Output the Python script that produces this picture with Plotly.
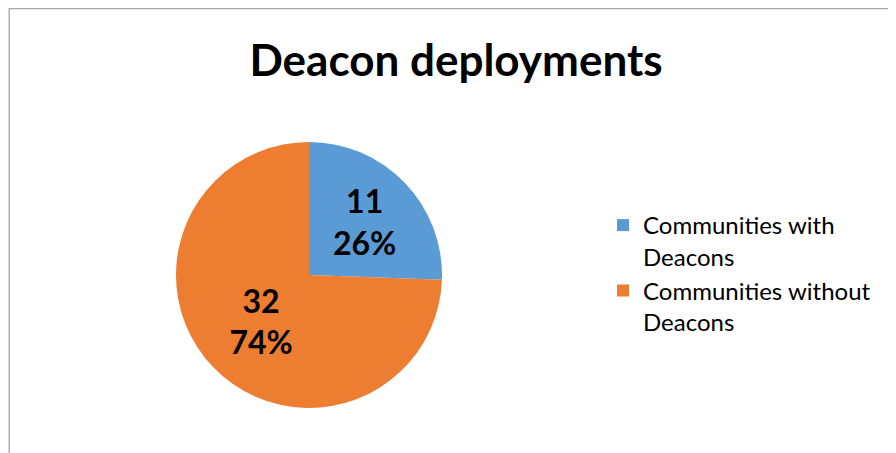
import plotly.graph_objects as go

categories = ["Communities with<br>Deacons", "Communities without<br>Deacons"]
values = [11, 32]
colors = ["#5B9BD5", "#ED7D31"]
title_text = "Deacon deployments"

W, H = 896, 453
OFF = 8  # page body margin
cx, cy, r = 309 - OFF, 275 - OFF, 133

fig = go.Figure(go.Pie(
    labels=categories,
    values=values,
    sort=False,
    direction="clockwise",
    rotation=0,
    marker=dict(colors=colors, line=dict(width=0)),
    texttemplate="<b>%{value}<br>%{percent:.0%}</b>",
    textposition="inside",
    insidetextorientation="horizontal",
    textfont=dict(family="Lato", size=32, color="#000000"),
    domain=dict(x=[(cx - r) / W, (cx + r) / W], y=[1 - (cy + r) / H, 1 - (cy - r) / H]),
    hoverinfo="label+value+percent",
))

fig.update_layout(
    width=W, height=H,
    margin=dict(l=0, r=0, t=0, b=0),
    paper_bgcolor="white",
    plot_bgcolor="white",
    title=dict(text="<b>" + title_text + "</b>", x=(456 - OFF) / W, xanchor="center",
               y=1 - (61 - OFF) / H, yanchor="middle",
               font=dict(family="Lato", size=44, color="#000000")),
    legend=dict(x=(603 - OFF) / W, y=1 - (203 - OFF) / H, xanchor="left", yanchor="top",
                valign="top",
                font=dict(family="Lato", size=24, color="#000000")),
    shapes=[dict(type="rect", xref="paper", yref="paper",
                 x0=1.2 / W, x1=1.2, y0=-0.2, y1=1 - 0.6 / H,
                 line=dict(color="#A6A6A6", width=1.3), fillcolor="rgba(0,0,0,0)")],
)

fig.write_html("out.html")
